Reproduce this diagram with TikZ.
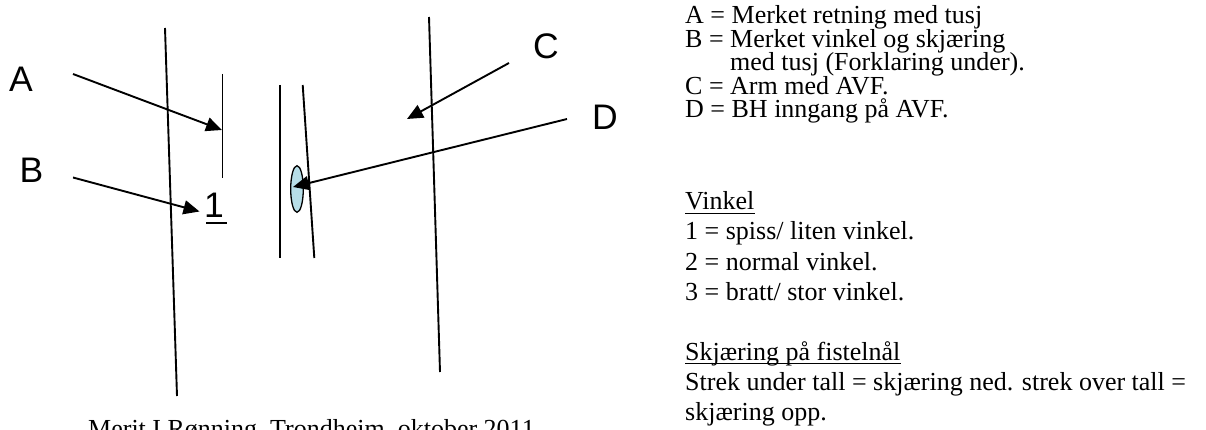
\documentclass[tikz,border=0pt]{standalone}
\usepackage{fontspec}
\setmainfont{Liberation Serif}
\newfontfamily\arialfont{Liberation Sans}
\usetikzlibrary{arrows.meta,shapes.geometric}
\definecolor{needleblue}{RGB}{183,222,232}
\begin{document}
\begin{tikzpicture}[x=1pt,y=-1pt,
  line/.style={line width=1.9pt},
  pointer/.style={line width=1.9pt,-{Triangle[length=16pt,width=14pt]}},
  lab/.style={font=\arialfont\fontsize{35.5}{40}\selectfont, inner sep=0pt, anchor=base west},
  txt/.style={font=\fontsize{26}{30}\selectfont, inner sep=0pt, anchor=base west},
  uline/.style={line width=1.4pt},
]
\useasboundingbox (0,0) rectangle (1206,430);
% long arm lines
\draw[line] (165,28) -- (177,396);
\draw[line] (429,17) -- (440,372);
% marker line
\draw[line] (222.5,74) -- (222.5,178);
% needle lines
\draw[line] (280,85) -- (280,258);
\draw[line] (302.7,85) -- (314.3,258);
% hole
\node[ellipse, draw, line width=1.3pt, fill=needleblue, minimum width=12.6pt, minimum height=46.6pt, inner sep=0pt] (hole) at (297,189) {};
% labels
\node[lab] (A) at (9,92) {A};
\node[lab] (B) at (19.5,183) {B};
\node[lab] (C) at (533,59) {C};
\node[lab] (D) at (592,130) {D};
\node[lab] (one) at (204,218) {1};
\draw[line width=2.2pt] ([xshift=2pt,yshift=-5pt]one.base west) -- ([xshift=3pt,yshift=-5pt]one.base east);
% arrow endpoints
\coordinate (Astart) at (73,74);   \coordinate (Atip) at (222,130);
\coordinate (Bstart) at (73,177.5); \coordinate (Btip) at (199.5,211.5);
\coordinate (Cstart) at (509,63);  \coordinate (Ctip) at (407,119);
\coordinate (Dstart) at (567,119); \coordinate (Dtip) at (293,187);
\draw[pointer] (Astart) -- (Atip);
\draw[pointer] (Bstart) -- (Btip);
\draw[pointer] (Cstart) -- (Ctip);
\draw[pointer] (Dstart) -- (Dtip);
% caption
\node[txt] (cap) at (88,437) {Merit I Rønning, Trondheim, oktober 2011};
% legend
\node[txt] (l1) at (685,24) {A = Merket retning med tusj};
\node[txt] (l2) at (685,47.5) {B = Merket vinkel og skjæring};
\node[txt] (l3) at (730,71) {med tusj (Forklaring under).};
\node[txt] (l4) at (685,94.5) {C = Arm med AVF.};
\node[txt] (l5) at (685,118) {D = BH inngang på AVF.};
\node[txt] (v0) at (685,210) {Vinkel};
\draw[uline] ([yshift=-3.5pt]v0.base west) -- ([yshift=-3.5pt]v0.base east);
\node[txt] (v1) at (685,240) {1 = spiss/ liten vinkel.};
\node[txt] (v2) at (685,270) {2 = normal vinkel.};
\node[txt] (v3) at (685,300) {3 = bratt/ stor vinkel.};
\node[txt] (s0) at (685,360) {Skjæring på fistelnål};
\draw[uline] ([yshift=-3.5pt]s0.base west) -- ([yshift=-3.5pt]s0.base east);
\node[txt] (s1) at (685,390) {Strek under tall = skjæring ned. strek over tall =};
\node[txt] (s2) at (685,420) {skjæring opp.};
\end{tikzpicture}
\end{document}
